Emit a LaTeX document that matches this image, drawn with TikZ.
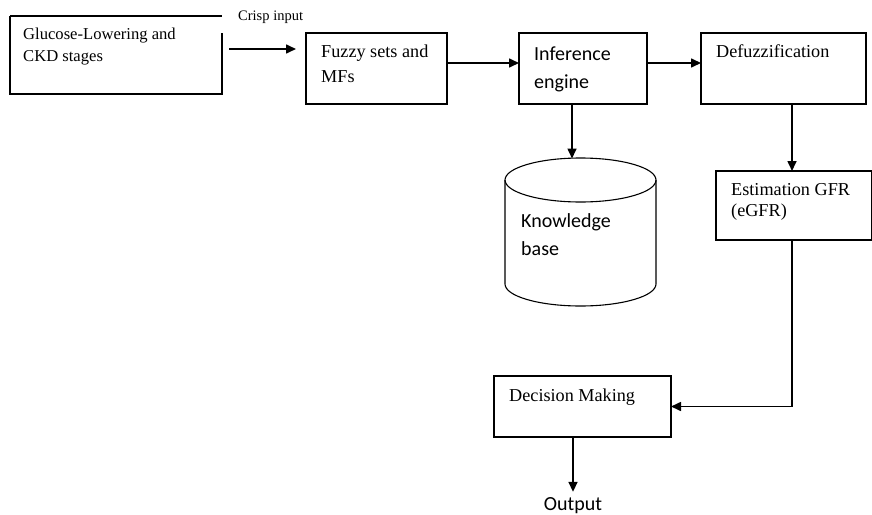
\documentclass[tikz,border=0pt]{standalone}
\usepackage{fontspec}
\setmainfont{Liberation Serif}
\newfontfamily\calib{Carlito}
\usetikzlibrary{arrows.meta}
\begin{document}
\begin{tikzpicture}[x=1pt,y=-1pt,
 box/.style={draw, line width=1.1pt, inner sep=0pt, outer sep=0pt},
 conn/.style={line width=1.6pt, -{Triangle[length=10pt,width=9pt]}},
 tms/.style={font=\fontsize{16.6}{22}\selectfont, inner sep=0pt, anchor=base west},
 tm/.style={font=\fontsize{18.2}{24}\selectfont, inner sep=0pt, anchor=base west},
 cb/.style={font=\calib\fontsize{20}{26}\selectfont, inner sep=0pt, anchor=base west}]
\useasboundingbox (0,0) rectangle (872,514);
% boxes
\node[inner sep=0pt, outer sep=0pt, minimum width=212pt, minimum height=78pt] (b1) at (116,55) {};
\draw[line width=1.1pt] (b1.north west) -- (b1.north east);
\draw[line width=1.1pt] ([yshift=-17pt]b1.north east) -- (b1.south east) -- (b1.south west) -- (b1.north west);
\node[box, minimum width=141pt, minimum height=71pt] (fz) at (376.5,68.5) {};
\node[box, minimum width=128pt, minimum height=71pt] (ie) at (583,68.5) {};
\node[box, minimum width=165pt, minimum height=71pt] (df) at (783.5,68.5) {};
\node[box, minimum width=155.5pt, minimum height=69pt] (eg) at (793.75,205.5) {};
\node[box, minimum width=177pt, minimum height=61pt] (dm) at (582.5,406.5) {};
% cylinder
\draw[line width=1.1pt] (505,180) -- (505,284) arc[start angle=180, end angle=0, x radius=75.5, y radius=22] -- (656,180);
\draw[line width=1.1pt] (580.5,180) ellipse[x radius=75.5, y radius=22];
\coordinate (kbtop) at (572,158.5);
\coordinate (vx) at (792,0);
% texts
\node[font=\fontsize{14.5}{17}\selectfont, inner sep=0pt, anchor=base west] (crisp) at (238,20) {Crisp input};
\node[tms] (g1) at (23,39) {Glucose-Lowering and};
\node[tms] (g2) at (23,61) {CKD stages};
\node[tm] (f1) at (321,57) {Fuzzy sets and};
\node[tm] (f2) at (321,82) {MFs};
\node[cb] (i1) at (534,60) {Inference};
\node[cb] (i2) at (534,88) {engine};
\node[tm] (d1) at (716,57) {Defuzzification};
\node[cb] (k1) at (521,227) {Knowledge};
\node[cb] (k2) at (521,255) {base};
\node[tm] (e1) at (731,195) {Estimation GFR};
\node[tm] (e2) at (731,216) {(eGFR)};
\node[tm] (m1) at (509,401) {Decision Making};
\node[cb, anchor=base] (out) at (573,510) {Output};
% connectors
\draw[conn, shorten <=7pt, shorten >=10pt] ([yshift=6pt]b1.east) -- ([yshift=6pt]b1.east -| fz.west);
\draw[conn] ([yshift=5.5pt]fz.east) -- ([yshift=5.5pt]ie.west);
\draw[conn] ([yshift=5.5pt]ie.east) -- ([yshift=5.5pt]df.west);
\draw[conn] (ie.south -| kbtop) -- (kbtop);
\draw[conn] (df.south -| vx) -- (eg.north -| vx);
\draw[conn] (eg.south -| vx) |- (dm.east);
\draw[conn, shorten >=5pt] (dm.south -| out.north) -- (out.north);
\end{tikzpicture}
\end{document}
